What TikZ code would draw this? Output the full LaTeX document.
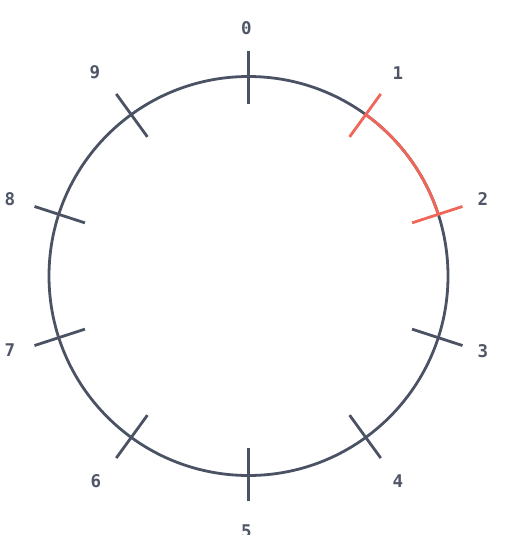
\documentclass[tikz,border=0pt]{standalone}
\usepackage{fontspec}
\setmonofont{DejaVu Sans Mono}
\usetikzlibrary{calc}
\definecolor{ink}{HTML}{4A5264}
\definecolor{hot}{HTML}{F0675A}
\definecolor{lab}{HTML}{4F5766}
\begin{document}
\begin{tikzpicture}[x=1pt,y=-1pt,
  ring/.style={draw=ink,line width=2.8pt},
  tick/.style={draw=ink,line width=2.8pt},
  hottick/.style={draw=hot,line width=2.8pt},
  numlab/.style={text=lab,font=\ttfamily\bfseries\fontsize{17.5}{17.5}\selectfont,inner sep=0pt}]
\useasboundingbox (0,0) rectangle (514,535);
\coordinate (c) at (248.5,276);
\draw[ring] (c) circle[radius=199.5];
\foreach \i in {0,...,9}{
  \pgfmathsetmacro{\a}{36*\i-90}
  \ifnum\i=1 \def\st{hottick}\else\ifnum\i=2 \def\st{hottick}\else\def\st{tick}\fi\fi
  \draw[\st] ($(c)+(\a:172)$) -- ($(c)+(\a:225)$);
}
\draw[draw=hot,line width=2.8pt] ($(c)+(-54:199.5)$) arc[start angle=-54,end angle=-18,radius=199.5];
\foreach \i/\x/\y in {0/246.5/28,1/398/73,2/483/199,3/483/351,4/398/481,5/246.5/531,6/96/481,7/10/350,8/10/199,9/95/72}{
  \node[numlab] (l\i) at (\x,\y) {\i};
}
\end{tikzpicture}
\end{document}
